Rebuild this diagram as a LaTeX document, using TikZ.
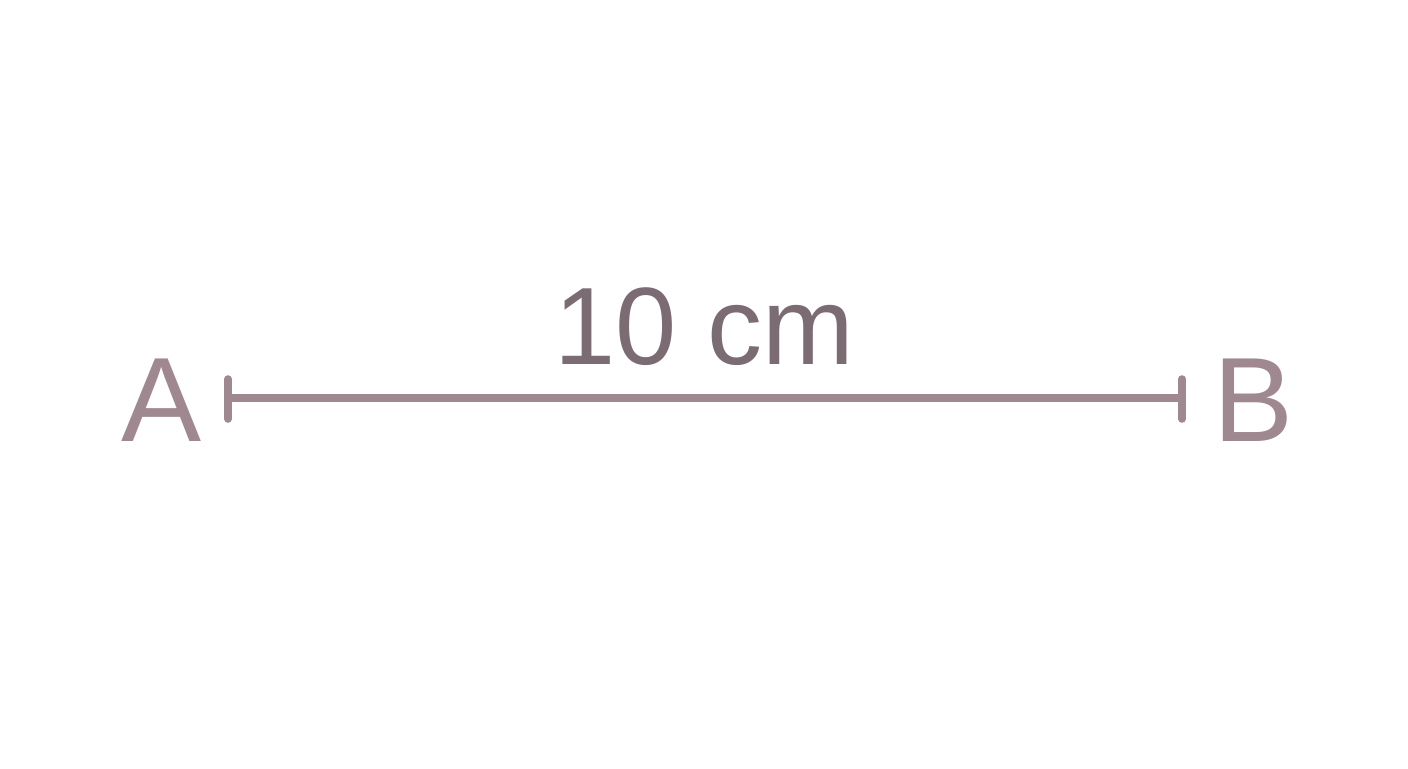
\documentclass[tikz,border=0pt]{standalone}
\usepackage{fontspec}
\setmainfont{Liberation Sans}
\definecolor{mauve}{HTML}{A08890}
\definecolor{mauvedark}{HTML}{7B6B73}
\begin{document}
\begin{tikzpicture}[x=0.5pt,y=-0.5pt,
  endlabel/.style={text=mauve,font=\fontsize{60}{60}\selectfont,inner sep=0pt,anchor=base},
  dimlabel/.style={text=mauvedark,font=\fontsize{55}{55}\selectfont,inner sep=0pt,anchor=base},
  dimline/.style={draw=mauve,line width=3.8pt},
  endbar/.style={draw=mauve,line width=3.8pt,line cap=round}]
\useasboundingbox (0,0) rectangle (1408,768);
\fill[white] (0,0) rectangle (1408,768);
\coordinate (L) at (228,398);
\coordinate (R) at (1182,398);
\coordinate (Lt) at (228,379);
\coordinate (Lb) at (228,419);
\coordinate (Rt) at (1182,379);
\coordinate (Rb) at (1182,419);
\node[endlabel] (A) at (161.5,441) {A};
\node[endlabel] (B) at (1254,441) {B};
\node[dimlabel] (D) at (704,364) {10 cm};
\draw[dimline] (L) -- (R);
\draw[endbar] (Lt) -- (Lb);
\draw[endbar] (Rt) -- (Rb);
\end{tikzpicture}
\end{document}
